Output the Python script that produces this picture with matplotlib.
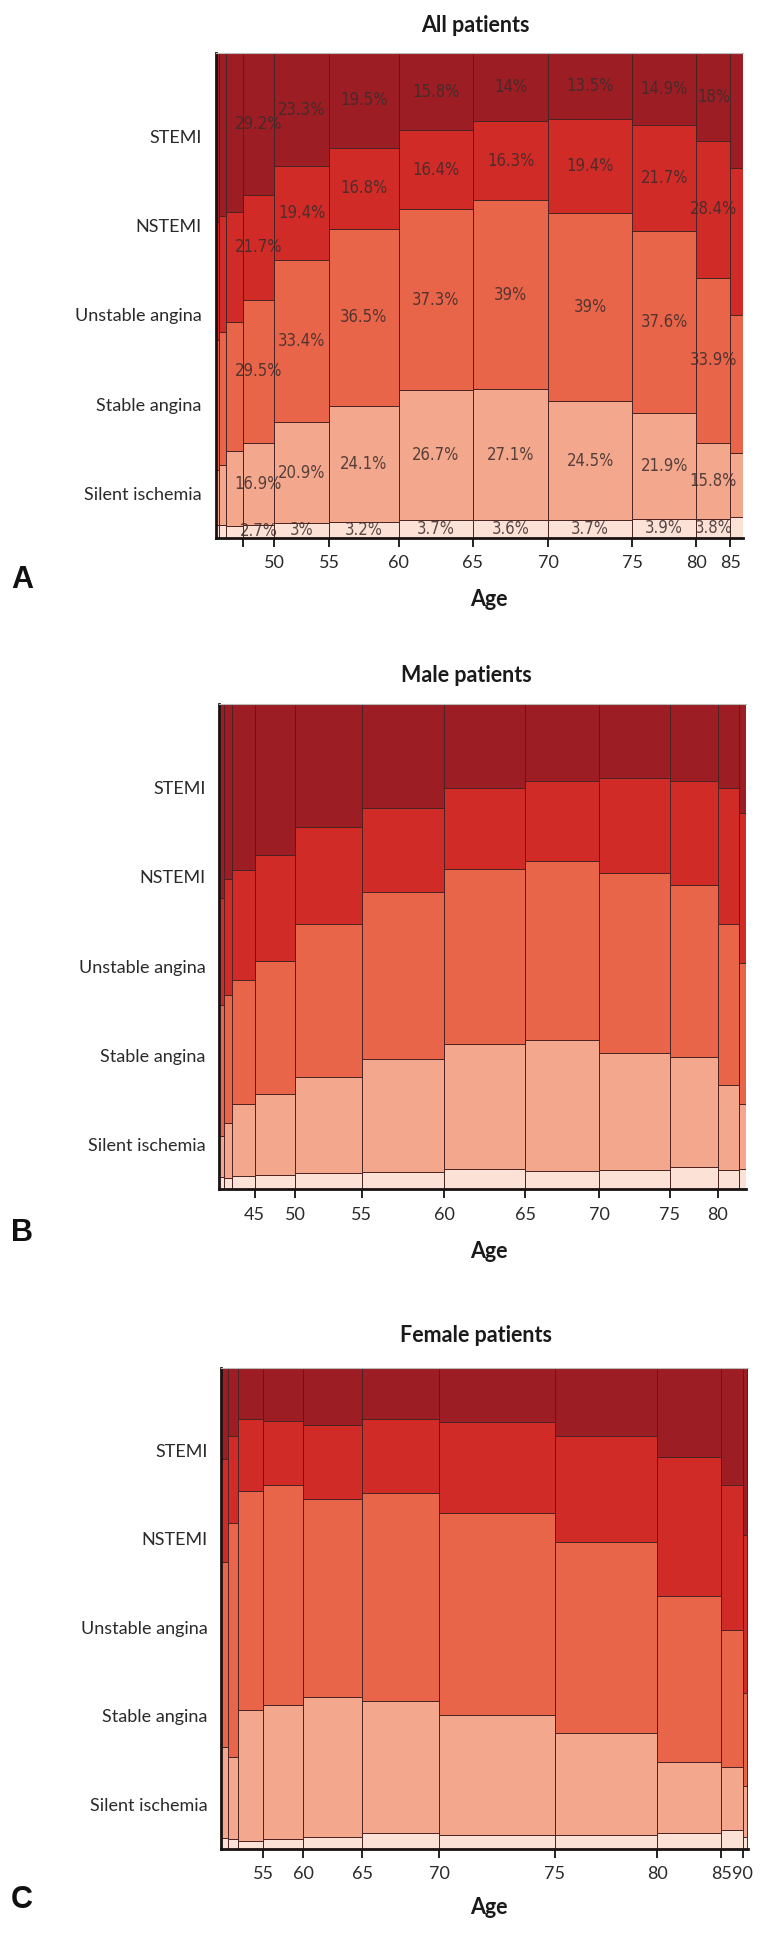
import numpy as np
import matplotlib
matplotlib.use('Agg')
import matplotlib.pyplot as plt

# categories, bottom -> top
categories = ['Silent ischemia', 'Stable angina', 'Unstable angina', 'NSTEMI', 'STEMI']
colors = ['#fce2d6', '#f3a78c', '#e9654a', '#d12b28', '#9c1d24']
ytick_pos = [0.092, 0.276, 0.460, 0.644, 0.828]

# ---- All patients (panel A) ----
all_groups = ['<35', '35-39', '40-44', '45-49', '50-54', '55-59', '60-64', '65-69',
              '70-74', '75-79', '80-84', '>=85']
all_n = [3.3, 7.0, 16.7, 31.6, 54.7, 69.7, 74.2, 75.3, 83.9, 64.3, 34.0, 12.2]
all_stemi = [34.8, 33.5, 32.8, 29.2, 23.3, 19.5, 15.8, 14.0, 13.5, 14.9, 18.0, 23.6]
all_nstemi = [24.4, 24.0, 22.6, 21.7, 19.4, 16.8, 16.4, 16.3, 19.4, 21.7, 28.4, 30.4]
all_ua = [26.8, 27.5, 26.8, 29.5, 33.4, 36.5, 37.3, 39.0, 39.0, 37.6, 33.9, 28.5]
all_sa = [11.4, 12.4, 15.3, 16.9, 20.9, 24.1, 26.7, 27.1, 24.5, 21.9, 15.8, 13.3]
all_si = [2.6, 2.6, 2.5, 2.7, 3.0, 3.2, 3.7, 3.6, 3.7, 3.9, 3.8, 4.2]
all_tick_cols = [3, 4, 5, 6, 7, 8, 9, 10, 11]
all_tick_labels = ['', '50', '55', '60', '65', '70', '75', '80', '85']
all_labeled = [3, 4, 5, 6, 7, 8, 9, 10]

# ---- Male patients (panel B) ----
male_groups = ['<35', '35-39', '40-44', '45-49', '50-54', '55-59', '60-64', '65-69',
               '70-74', '75-79', '80-84', '>=85']
male_n = [4.3, 8.9, 22.2, 40.3, 66.8, 82.5, 81.1, 74.3, 70.3, 48.3, 20.7, 7.8]
male_stemi = [40.0, 36.0, 34.1, 31.1, 25.4, 21.3, 17.2, 15.8, 15.2, 15.8, 17.2, 22.5]
male_nstemi = [22.0, 23.9, 22.7, 21.9, 20.0, 17.5, 16.8, 16.5, 19.6, 21.4, 28.0, 30.9]
male_ua = [27.0, 26.5, 25.7, 27.4, 31.5, 34.4, 36.0, 36.9, 37.0, 35.6, 33.3, 29.0]
male_sa = [8.5, 11.3, 14.8, 16.7, 19.8, 23.2, 25.9, 27.0, 24.2, 22.7, 17.5, 13.5]
male_si = [2.5, 2.3, 2.7, 2.9, 3.3, 3.6, 4.1, 3.8, 4.0, 4.5, 4.0, 4.1]
male_tick_cols = [3, 4, 5, 6, 7, 8, 9, 10]
male_tick_labels = ['45', '50', '55', '60', '65', '70', '75', '80']

# ---- Female patients (panel C) ----
female_groups = ['<45', '45-49', '50-54', '55-59', '60-64', '65-69', '70-74', '75-79',
                 '80-84', '85-89', '>=90']
female_n = [6.5, 10.3, 25.4, 40.0, 58.9, 76.8, 115.3, 102.9, 63.9, 21.5, 4.6]
female_stemi = [18.9, 14.2, 10.7, 11.0, 11.9, 10.6, 11.2, 14.2, 18.6, 24.4, 34.8]
female_nstemi = [21.5, 18.1, 15.0, 13.5, 15.5, 15.5, 19.1, 22.0, 28.9, 30.2, 32.8]
female_ua = [38.5, 48.6, 45.4, 45.7, 41.1, 43.3, 42.0, 39.7, 34.6, 28.4, 19.4]
female_sa = [19.0, 17.1, 27.3, 27.9, 29.2, 27.3, 24.8, 21.2, 14.6, 13.2, 10.6]
female_si = [2.1, 2.0, 1.6, 1.9, 2.3, 3.3, 2.9, 2.9, 3.3, 3.8, 2.4]
female_tick_cols = [3, 4, 5, 6, 7, 8, 9, 10]
female_tick_labels = ['55', '60', '65', '70', '75', '80', '85', '90']

TXT = ['Lato', 'DejaVu Sans']


def draw_mosaic(ax, n, parts, tick_cols, tick_labels, labeled=()):
    w = np.array(n, float) / sum(n)
    left = np.concatenate([[0], np.cumsum(w)[:-1]])
    pct = np.array(parts, float)
    frac = pct / pct.sum(axis=0)
    bottom = np.zeros(len(n))
    for k in range(len(categories)):
        ax.bar(left, frac[k], width=w, bottom=bottom, align='edge', color=colors[k],
               edgecolor='#4b2323', linewidth=0.7)
        for i in labeled:
            ax.text(left[i] + w[i] / 2, bottom[i] + frac[k][i] / 2, f'{pct[k][i]:g}%',
                    ha='center', va='center', fontsize=12, family='DejaVu Sans',
                    fontstretch='condensed', color='#3a2c2c', alpha=0.85)
        bottom += frac[k]
    ax.set_xlim(0, 1)
    ax.set_ylim(0, 1)
    ax.set_xticks([left[i] for i in tick_cols])
    ax.set_xticklabels(tick_labels, family=TXT, fontsize=13, color='#2a2a2a')
    ax.set_yticks(ytick_pos)
    ax.set_yticklabels(categories, family=TXT, fontsize=13, color='#2a2a2a')
    ax.tick_params(axis='x', length=6.5, width=1.3, pad=6, color='#111111')
    ax.tick_params(axis='y', length=0, pad=10)
    for s in ['left', 'bottom']:
        ax.spines[s].set_linewidth(2.0)
        ax.spines[s].set_color('#1a1212')
    ax.spines['right'].set_visible(False)
    ax.spines['top'].set_color('#bbbbbb')
    ax.spines['top'].set_linewidth(0.8)


W, H = 781, 1943
fig = plt.figure(figsize=(W / 100, H / 100), dpi=100)


def axes_px(x0, x1, y0, y1):
    return fig.add_axes([x0 / W, 1 - y1 / H, (x1 - x0) / W, (y1 - y0) / H])


panels = [
    ('All patients', (215.7, 742.6, 53.3, 537.7), 25, 600, 'A', 580,
     all_n, [all_si, all_sa, all_ua, all_nstemi, all_stemi], all_tick_cols, all_tick_labels,
     all_labeled, 475),
    ('Male patients', (219.3, 746.4, 704.3, 1189.3), 676, 1251, 'B', 1233,
     male_n, [male_si, male_sa, male_ua, male_nstemi, male_stemi], male_tick_cols,
     male_tick_labels, [], 466),
    ('Female patients', (221.2, 747.5, 1367.7, 1848.5), 1335, 1908, 'C', 1900,
     female_n, [female_si, female_sa, female_ua, female_nstemi, female_stemi],
     female_tick_cols, female_tick_labels, [], 476),
]

for title, box, ty, agey, letter, ly, n, parts, tc, tl, lab, tx in panels:
    ax = axes_px(*box)
    draw_mosaic(ax, n, parts, tc, tl, lab)
    fig.text(tx / W, 1 - ty / H, title, ha='center', va='center', fontsize=15.5,
             fontweight='bold', family=TXT, color='#1a1a1a')
    fig.text(488.6 / W, 1 - agey / H, 'Age', ha='center', va='center', fontsize=15.5,
             fontweight='bold', family=TXT, color='#1a1a1a')
    fig.text(22 / W, 1 - ly / H, letter, ha='center', va='center', fontsize=22,
             fontweight='bold', family=['Liberation Sans', 'DejaVu Sans'], color='#111111')

fig.savefig('out.png', dpi=100)
